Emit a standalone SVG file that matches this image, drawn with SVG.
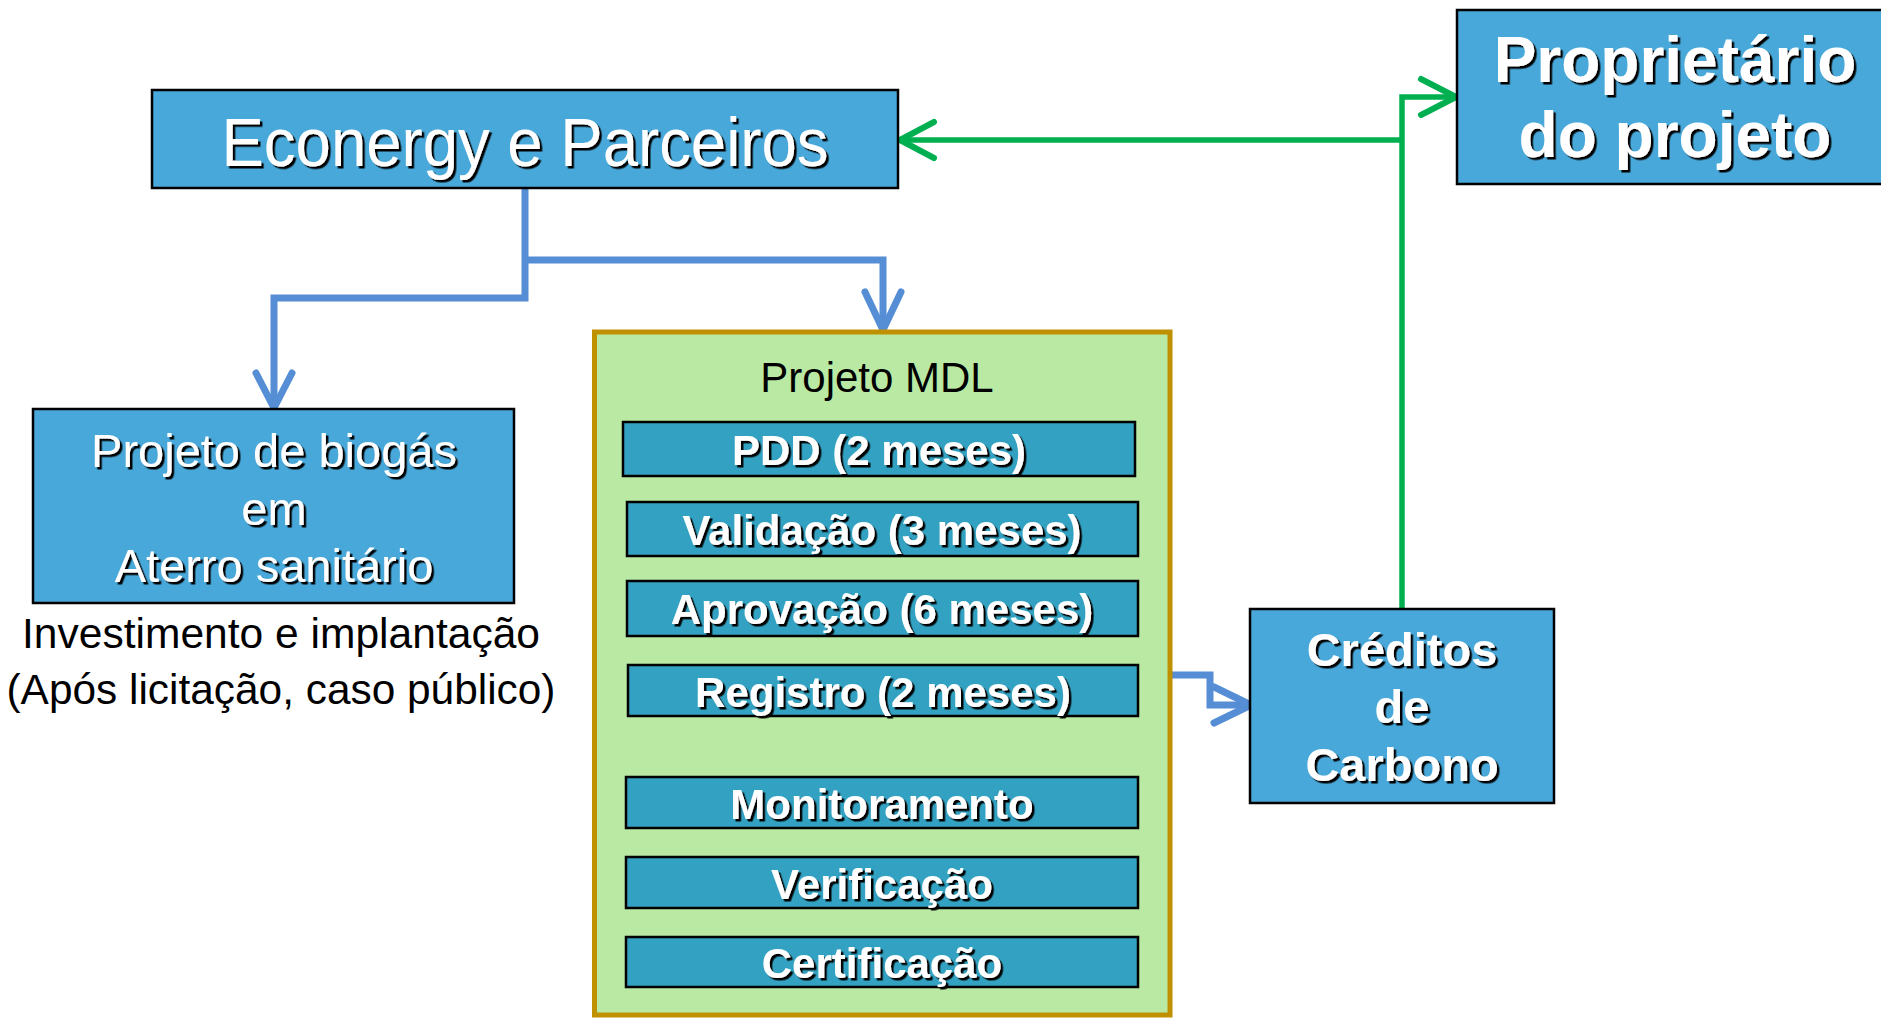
<svg xmlns="http://www.w3.org/2000/svg" width="1881" height="1018" viewBox="0 0 1881 1018">
<style>
.node{fill:#48A8DA;stroke:#000;stroke-width:2.5}
.step{fill:#33A2C2;stroke:#000;stroke-width:2.5}
.wt{fill:#fff;font-family:"Liberation Sans",Arial,sans-serif;text-anchor:middle;filter:url(#sh)}
.b{font-weight:bold}
.bk{fill:#000;font-family:"Liberation Sans",Arial,sans-serif;text-anchor:middle}
.blue{fill:none;stroke:#558ED5;stroke-width:7}
.bluehead{fill:none;stroke:#558ED5;stroke-width:7;stroke-linecap:round;stroke-linejoin:round}
.green{fill:none;stroke:#00B050;stroke-width:5.5}
.greenhead{fill:none;stroke:#00B050;stroke-width:6;stroke-linecap:round;stroke-linejoin:round}
</style>
<defs>
<filter id="sh" x="-10%" y="-30%" width="120%" height="160%">
<feDropShadow dx="2.5" dy="2.5" stdDeviation="0.5" flood-color="#000" flood-opacity="1"/>
</filter>
</defs>
<rect width="1881" height="1018" fill="#fff"/>

<g id="connectors">
<path class="blue" d="M525,188 V298 H274 V404"/>
<path class="bluehead" d="M256,373 L274,408 L292,373"/>
<path class="blue" d="M525,260 H883 V326"/>
<path class="bluehead" d="M865,292 L883,330 L901,292"/>
<path class="blue" d="M1172,675 H1210 V705 H1248"/>
<path class="bluehead" d="M1214,687 L1251,705 L1214,723"/>
<path class="green" d="M1402,609 V97 H1453"/>
<path class="greenhead" d="M1421,79 L1456,97 L1421,115"/>
<path class="green" d="M1402,140 H904"/>
<path class="greenhead" d="M934,122 L900,140 L934,158"/>
</g>

<g id="econergy">
<rect class="node" x="152" y="90" width="746" height="98"/>
<text class="wt" x="525" y="166" font-size="68" textLength="607" lengthAdjust="spacingAndGlyphs">Econergy e Parceiros</text>
</g>

<g id="proprietario">
<rect class="node" x="1457" y="10" width="430" height="174"/>
<text class="wt b" x="1675" y="82" font-size="64">Proprietário</text>
<text class="wt b" x="1675" y="157" font-size="64">do projeto</text>
</g>

<g id="biogas">
<rect class="node" x="33" y="409" width="481" height="194"/>
<text class="wt" x="274" y="467" font-size="47">Projeto de biogás</text>
<text class="wt" x="274" y="525" font-size="47">em</text>
<text class="wt" x="274" y="582" font-size="47">Aterro sanitário</text>
</g>

<g id="biogas-note">
<text class="bk" x="281" y="648" font-size="43" textLength="518" lengthAdjust="spacingAndGlyphs">Investimento e implantação</text>
<text class="bk" x="281" y="704" font-size="43" textLength="549" lengthAdjust="spacingAndGlyphs">(Após licitação, caso público)</text>
</g>

<g id="mdl">
<rect x="594.5" y="332" width="575.5" height="683" fill="#B9E9A3" stroke="#BF9000" stroke-width="5"/>
<text class="bk" x="877" y="392" font-size="42">Projeto MDL</text>
</g>

<g id="pdd">
<rect class="step" x="623" y="422" width="512" height="54"/>
<text class="wt b" x="879" y="465" font-size="42">PDD (2 meses)</text>
</g>
<g id="validacao">
<rect class="step" x="627" y="502" width="511" height="54"/>
<text class="wt b" x="882" y="545" font-size="42">Validação (3 meses)</text>
</g>
<g id="aprovacao">
<rect class="step" x="627" y="581" width="511" height="55"/>
<text class="wt b" x="882" y="624" font-size="42">Aprovação (6 meses)</text>
</g>
<g id="registro">
<rect class="step" x="628" y="665" width="510" height="51"/>
<text class="wt b" x="883" y="707" font-size="42">Registro (2 meses)</text>
</g>
<g id="monitoramento">
<rect class="step" x="626" y="777" width="512" height="51"/>
<text class="wt b" x="882" y="819" font-size="42">Monitoramento</text>
</g>
<g id="verificacao">
<rect class="step" x="626" y="857" width="512" height="51"/>
<text class="wt b" x="882" y="899" font-size="42">Verificação</text>
</g>
<g id="certificacao">
<rect class="step" x="626" y="937" width="512" height="50"/>
<text class="wt b" x="882" y="978" font-size="42">Certificação</text>
</g>

<g id="creditos">
<rect class="node" x="1250" y="609" width="304" height="194"/>
<text class="wt b" x="1402" y="666" font-size="47">Créditos</text>
<text class="wt b" x="1402" y="723" font-size="47">de</text>
<text class="wt b" x="1402" y="781" font-size="47">Carbono</text>
</g>
</svg>
